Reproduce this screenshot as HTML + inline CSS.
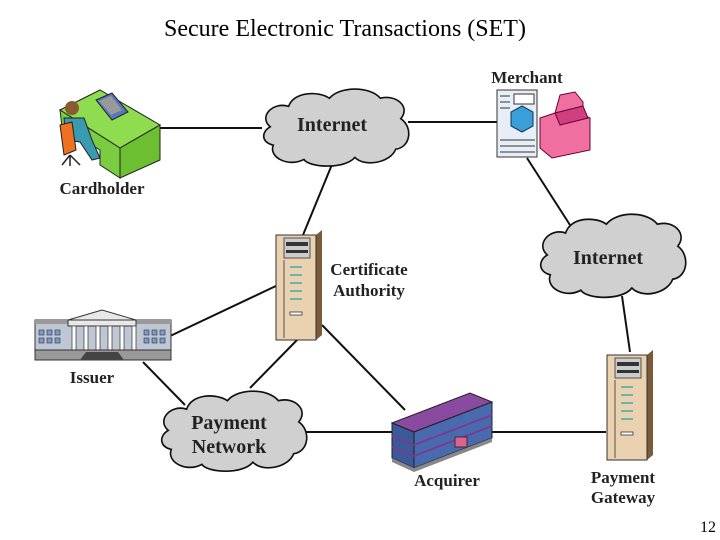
<!DOCTYPE html>
<html><head><style>
html,body{margin:0;padding:0;background:#fff;}
svg{display:block;}
text{font-family:"Liberation Serif",serif;}
.lbl{font-weight:bold;font-size:17px;fill:#222;}
.cl{font-weight:bold;font-size:20px;fill:#222;}
</style></head><body>
<svg width="720" height="540" viewBox="0 0 720 540" xmlns="http://www.w3.org/2000/svg">
<defs>
<path id="cloud" d="M12,40 C0,30 15,15 30,20 C35,5 60,5 70,12 C80,0 110,0 120,12 C135,8 150,20 140,32 C152,40 150,60 135,62 C130,75 105,80 95,70 C85,82 50,80 45,72 C30,80 10,70 15,58 C3,55 3,45 12,40 Z" fill="#d0d0d0" stroke="#111" stroke-width="1.6"/>
<g id="server">
<polygon points="40,5 46,0 46,105 40,110" fill="#7a5a38"/>
<rect x="0" y="5" width="40" height="105" fill="#ead2b0" stroke="#333" stroke-width="1"/>
<rect x="8" y="8" width="26" height="20" fill="#ccc" stroke="#333" stroke-width="0.8"/>
<rect x="10" y="12" width="22" height="4" fill="#333"/>
<rect x="10" y="20" width="22" height="3" fill="#333"/>
<line x1="8" y1="30" x2="8" y2="108" stroke="#333" stroke-width="0.8"/>
<g stroke="#4aa" stroke-width="1.5"><line x1="14" y1="37" x2="26" y2="37"/><line x1="14" y1="45" x2="26" y2="45"/><line x1="14" y1="53" x2="26" y2="53"/><line x1="14" y1="61" x2="26" y2="61"/><line x1="14" y1="69" x2="26" y2="69"/></g>
<rect x="14" y="82" width="12" height="3" fill="#fff" stroke="#333" stroke-width="0.8"/>
</g>
</defs>
<text x="345" y="36" text-anchor="middle" font-size="24" fill="#000">Secure Electronic Transactions (SET)</text>
<g stroke="#111" stroke-width="2" fill="none">
<line x1="158" y1="128" x2="262" y2="128"/>
<line x1="408" y1="122" x2="500" y2="122"/>
<line x1="333" y1="162" x2="303" y2="235"/>
<line x1="527" y1="158" x2="570" y2="225"/>
<line x1="622" y1="296" x2="630" y2="352"/>
<line x1="168" y1="337" x2="278" y2="285"/>
<line x1="143" y1="362" x2="185" y2="405"/>
<line x1="297" y1="340" x2="250" y2="388"/>
<line x1="322" y1="325" x2="405" y2="410"/>
<line x1="305" y1="432" x2="392" y2="432"/>
<line x1="490" y1="432" x2="606" y2="432"/>
</g>
<use href="#cloud" transform="translate(258,86) scale(1.02,1.02)"/>
<use href="#cloud" transform="translate(535,211) scale(1.02,1.1)"/>
<use href="#cloud" transform="translate(156,388) scale(1.02,1.06)"/>
<text x="332" y="131" text-anchor="middle" class="cl">Internet</text>
<text x="608" y="264" text-anchor="middle" class="cl">Internet</text>
<text x="229" y="429" text-anchor="middle" class="cl">Payment</text>
<text x="229" y="453" text-anchor="middle" class="cl">Network</text>
<!-- cardholder -->
<polygon points="60,110 100,90 160,125 120,148" fill="#8fdc50" stroke="#222"/>
<polygon points="120,148 160,125 160,160 120,178" fill="#6cbf30" stroke="#222"/>
<polygon points="60,110 120,148 120,178 100,165 100,150 62,127" fill="#7acc40" stroke="#222"/>
<polygon points="96,100 112,93 128,112 112,120" fill="#5577bb" stroke="#222"/>
<polygon points="99,101 111,96 122,110 111,115" fill="#999"/>
<circle cx="72" cy="108" r="7" fill="#8a5a30"/>
<path d="M64,118 L84,118 L92,140 L100,158 L92,160 L80,142 L66,140 Z" fill="#3a9ab0" stroke="#222"/>
<path d="M60,125 L72,122 L76,150 L64,155 Z" fill="#ee7020" stroke="#222"/>
<path d="M70,155 L62,165 M70,155 L80,165 M70,155 L70,166" stroke="#222" stroke-width="1.5"/>
<text x="102" y="194" text-anchor="middle" class="lbl">Cardholder</text>
<!-- merchant -->
<text x="527" y="83" text-anchor="middle" class="lbl">Merchant</text>
<rect x="497" y="90" width="40" height="67" fill="#e8eef8" stroke="#333"/>
<g stroke="#333" stroke-width="1"><line x1="500" y1="96" x2="510" y2="96"/><line x1="500" y1="102" x2="510" y2="102"/><line x1="500" y1="108" x2="510" y2="108"/><line x1="500" y1="140" x2="535" y2="140"/><line x1="500" y1="146" x2="535" y2="146"/><line x1="500" y1="152" x2="535" y2="152"/></g>
<rect x="514" y="94" width="20" height="10" fill="#fff" stroke="#333"/>
<polygon points="522,106 533,112 533,126 522,132 511,126 511,112" fill="#3a9fd8" stroke="#135"/>
<polygon points="560,95 575,92 583,102 583,115 590,118 590,150 552,158 540,148 540,118 555,113" fill="#ee6fa0" stroke="#6a0030"/>
<polygon points="555,113 583,106 588,118 560,125" fill="#d04080" stroke="#6a0030"/>
<!-- CA -->
<use href="#server" transform="translate(276,230)"/>
<text x="369" y="275" text-anchor="middle" class="lbl">Certificate</text>
<text x="369" y="296" text-anchor="middle" class="lbl">Authority</text>
<!-- gateway -->
<use href="#server" transform="translate(607,350)"/>
<text x="623" y="483" text-anchor="middle" class="lbl">Payment</text>
<text x="623" y="503" text-anchor="middle" class="lbl">Gateway</text>
<!-- issuer -->
<rect x="35" y="320" width="136" height="40" fill="#bfc7d5" stroke="#333"/>
<rect x="35" y="320" width="136" height="4" fill="#999"/>
<polygon points="68,320 102,310 136,320" fill="#e8e8e8" stroke="#333"/>
<rect x="68" y="320" width="68" height="6" fill="#e8e8e8" stroke="#333"/>
<g fill="#fff" stroke="#444" stroke-width="0.8">
<rect x="72" y="326" width="4" height="26"/><rect x="84" y="326" width="4" height="26"/><rect x="96" y="326" width="4" height="26"/><rect x="108" y="326" width="4" height="26"/><rect x="120" y="326" width="4" height="26"/><rect x="132" y="326" width="4" height="26"/></g>
<g fill="#7a9ad0" stroke="#333" stroke-width="0.6">
<rect x="39" y="330" width="5" height="5"/><rect x="47" y="330" width="5" height="5"/><rect x="55" y="330" width="5" height="5"/><rect x="39" y="338" width="5" height="5"/><rect x="47" y="338" width="5" height="5"/><rect x="55" y="338" width="5" height="5"/>
<rect x="144" y="330" width="5" height="5"/><rect x="152" y="330" width="5" height="5"/><rect x="160" y="330" width="5" height="5"/><rect x="144" y="338" width="5" height="5"/><rect x="152" y="338" width="5" height="5"/><rect x="160" y="338" width="5" height="5"/></g>
<rect x="35" y="350" width="136" height="10" fill="#999" stroke="#333"/>
<polygon points="80,360 124,360 118,352 86,352" fill="#444"/>
<text x="92" y="383" text-anchor="middle" class="lbl">Issuer</text>
<!-- acquirer -->
<polygon points="392,423 470,393 492,402 414,432" fill="#8a4aa0" stroke="#222"/>
<polygon points="392,423 414,432 414,468 392,458" fill="#3a5a9a" stroke="#222"/>
<polygon points="414,432 492,402 492,438 414,468" fill="#4a6ab0" stroke="#222"/>
<g stroke="#7a3a90" stroke-width="2"><line x1="414" y1="445" x2="492" y2="415"/><line x1="414" y1="456" x2="492" y2="426"/><line x1="392" y1="436" x2="414" y2="445"/><line x1="392" y1="447" x2="414" y2="456"/></g>
<polygon points="392,458 414,468 492,438 492,442 414,472 392,462" fill="#888"/>
<rect x="455" y="437" width="12" height="10" fill="#e06090" stroke="#333"/>
<text x="447" y="486" text-anchor="middle" class="lbl">Acquirer</text>
<text x="716" y="532" text-anchor="end" font-size="16" fill="#000">12</text>
</svg>
</body></html>
